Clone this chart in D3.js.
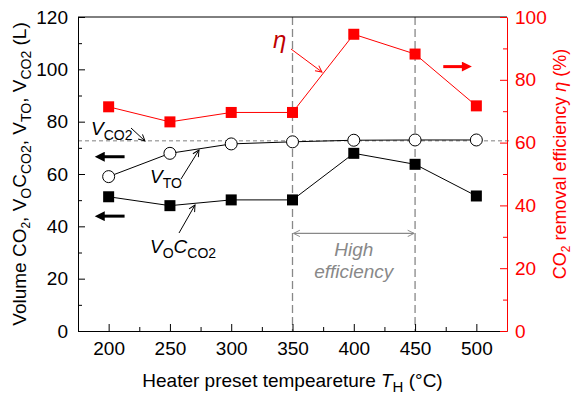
<!DOCTYPE html>
<html>
<head>
<meta charset="utf-8">
<script src="https://cdn.jsdelivr.net/npm/d3@7"></script>
<style>
body { margin: 0; background: #fff; }
text { font-family: "Liberation Sans", Arial, sans-serif; }
</style>
</head>
<body>
<div id="chart"></div>
<script>
// heater preset temperature (°C)
var temps = [200, 250, 300, 350, 400, 450, 500];
// CO2 removal efficiency eta (%), right axis
var eta = [71.4, 66.6, 69.6, 69.6, 94.5, 88.2, 71.7];
// V_TO (L)
var vTO = [59.0, 67.9, 71.5, 72.3, 72.9, 73.0, 73.0];
// V_O * C_CO2 (L)
var vOC = [51.3, 47.9, 50.1, 50.1, 67.9, 63.7, 51.6];
// V_CO2 reference level (L)
var vCO2 = 72.7;
var xTicks = [200, 250, 300, 350, 400, 450, 500];
var yTicks = [0, 20, 40, 60, 80, 100, 120];
var y2Ticks = [0, 20, 40, 60, 80, 100];

var width = 575, height = 400;
var margin = {top: 17, right: 68, bottom: 69, left: 78};
var red = "#ff0000", grey = "#888";

var svg = d3.select("#chart").append("svg")
	.attr("width", width)
	.attr("height", height);

var defs = svg.append("defs");
function openHead(id, color) {
	defs.append("marker").attr("id", id)
		.attr("viewBox", "0 0 10 10").attr("refX", 9).attr("refY", 5)
		.attr("markerWidth", 8).attr("markerHeight", 8)
		.attr("markerUnits", "userSpaceOnUse")
		.attr("orient", "auto-start-reverse")
		.append("path").attr("d", "M1,1 L9,5 L1,9")
		.attr("fill", "none").attr("stroke", color).attr("stroke-width", 1.2);
}
function solidHead(id, color) {
	defs.append("marker").attr("id", id)
		.attr("viewBox", "0 0 10 10").attr("refX", 1).attr("refY", 5)
		.attr("markerWidth", 11).attr("markerHeight", 10)
		.attr("markerUnits", "userSpaceOnUse")
		.attr("orient", "auto")
		.append("path").attr("d", "M0,0 L10,5 L0,10 Z")
		.attr("fill", color);
}
openHead("openK", "#000");
openHead("openR", red);
openHead("openG", grey);
solidHead("solidK", "#000");
solidHead("solidR", red);

var x = d3.scaleLinear().domain([175, 525]).range([margin.left, width - margin.right]);
var y = d3.scaleLinear().domain([0, 120]).range([height - margin.bottom, margin.top]);
var y2 = d3.scaleLinear().domain([0, 100]).range([height - margin.bottom, margin.top]);

var x0 = x.range()[0], x1 = x.range()[1], yb = y.range()[0], yt = y.range()[1];

// vertical dashed lines for the high efficiency range
svg.selectAll(".vline")
	.data([350, 450])
	.enter().append("line")
	.attr("x1", function (d) { return x(d); })
	.attr("x2", function (d) { return x(d); })
	.attr("y1", yt).attr("y2", yb)
	.attr("stroke", grey).attr("stroke-width", 1.3)
	.attr("stroke-dasharray", "8,4");

// V_CO2 level
svg.append("line")
	.attr("x1", x0).attr("x2", x1 + 4)
	.attr("y1", y(vCO2)).attr("y2", y(vCO2))
	.attr("stroke", "#aaa").attr("stroke-width", 1.3)
	.attr("stroke-dasharray", "4,3");

// axes
svg.append("g")
	.attr("transform", "translate(0," + yb + ")")
	.call(d3.axisBottom(x).tickValues(xTicks).tickSize(-7).tickPadding(11).tickSizeOuter(0))
	.call(function (g) { g.selectAll("text").attr("font-size", 19).attr("font-family", "Liberation Sans, Arial"); });
svg.append("g")
	.attr("transform", "translate(0," + yb + ")")
	.call(d3.axisBottom(x).tickValues([225, 275, 325, 375, 425, 475]).tickSize(-4).tickFormat("").tickSizeOuter(0))
	.call(function (g) { g.select(".domain").remove(); });

svg.append("g")
	.attr("transform", "translate(" + x0 + ",0)")
	.call(d3.axisLeft(y).tickValues(yTicks).tickSize(-7).tickPadding(10).tickSizeOuter(0))
	.call(function (g) { g.selectAll("text").attr("font-size", 19).attr("font-family", "Liberation Sans, Arial"); });
svg.append("g")
	.attr("transform", "translate(" + x0 + ",0)")
	.call(d3.axisLeft(y).tickValues([10, 30, 50, 70, 90, 110]).tickSize(-4).tickFormat("").tickSizeOuter(0))
	.call(function (g) { g.select(".domain").remove(); });

// top border
svg.append("line")
	.attr("x1", x0).attr("x2", x1).attr("y1", yt).attr("y2", yt)
	.attr("stroke", "#000");

var right = svg.append("g")
	.attr("transform", "translate(" + x1 + ",0)")
	.call(d3.axisRight(y2).tickValues(y2Ticks).tickSize(-7).tickPadding(8).tickSizeOuter(0))
	.call(function (g) {
		g.selectAll("text").attr("font-size", 19).attr("fill", red).attr("font-family", "Liberation Sans, Arial");
		g.selectAll("line").attr("stroke", red);
		g.select(".domain").attr("stroke", red);
	});
svg.append("g")
	.attr("transform", "translate(" + x1 + ",0)")
	.call(d3.axisRight(y2).tickValues([10, 30, 50, 70, 90]).tickSize(-4).tickFormat("").tickSizeOuter(0))
	.call(function (g) { g.select(".domain").remove(); g.selectAll("line").attr("stroke", red); });

// series lines
var lineL = d3.line().x(function (d, i) { return x(temps[i]); }).y(function (d) { return y(d); });
var lineR = d3.line().x(function (d, i) { return x(temps[i]); }).y(function (d) { return y2(d); });

svg.append("path").datum(eta).attr("d", lineR)
	.attr("fill", "none").attr("stroke", red).attr("stroke-width", 1);
svg.append("path").datum(vTO).attr("d", lineL)
	.attr("fill", "none").attr("stroke", "#000").attr("stroke-width", 1);
svg.append("path").datum(vOC).attr("d", lineL)
	.attr("fill", "none").attr("stroke", "#000").attr("stroke-width", 1);

var s = 11;
svg.selectAll(".etaPt").data(eta).enter().append("rect")
	.attr("x", function (d, i) { return x(temps[i]) - s / 2; })
	.attr("y", function (d) { return y2(d) - s / 2; })
	.attr("width", s).attr("height", s)
	.attr("fill", red);
svg.selectAll(".ocPt").data(vOC).enter().append("rect")
	.attr("x", function (d, i) { return x(temps[i]) - s / 2; })
	.attr("y", function (d) { return y(d) - s / 2; })
	.attr("width", s).attr("height", s)
	.attr("fill", "#000");
svg.selectAll(".toPt").data(vTO).enter().append("circle")
	.attr("cx", function (d, i) { return x(temps[i]); })
	.attr("cy", function (d) { return y(d); })
	.attr("r", 6)
	.attr("fill", "#fff").attr("stroke", "#000").attr("stroke-width", 1);

// high efficiency range
svg.append("line")
	.attr("x1", x(350) + 1).attr("x2", x(450) - 1)
	.attr("y1", y(37.3)).attr("y2", y(37.3))
	.attr("stroke", grey).attr("stroke-width", 1.2)
	.attr("marker-start", "url(#openG)").attr("marker-end", "url(#openG)");
var he = svg.append("text")
	.attr("x", x(400)).attr("y", y(28.5))
	.attr("text-anchor", "middle")
	.attr("font-size", 19).attr("font-style", "italic").attr("fill", grey);
he.append("tspan").attr("x", x(400)).text("High");
he.append("tspan").attr("x", x(400)).attr("dy", 22).text("efficiency");

// axis direction arrows
function bigArrow(xa, xb, ya, color, marker) {
	svg.append("line")
		.attr("x1", xa).attr("x2", xb).attr("y1", ya).attr("y2", ya)
		.attr("stroke", color).attr("stroke-width", 3)
		.attr("marker-end", "url(#" + marker + ")");
}
bigArrow(x(213), x(196), y(66.6), "#000", "solidK");
bigArrow(x(213), x(196), y(43.9), "#000", "solidK");
bigArrow(x(473), x(489), y2(84.2), red, "solidR");

// annotations
function annot(ax, ay, bx, by, color, marker) {
	svg.append("line")
		.attr("x1", ax).attr("y1", ay).attr("x2", bx).attr("y2", by)
		.attr("stroke", color).attr("stroke-width", 1)
		.attr("marker-end", "url(#" + marker + ")");
}
svg.append("text")
	.attr("x", 273).attr("y", 48)
	.attr("font-family", "Liberation Serif, Times New Roman, serif")
	.attr("font-style", "italic").attr("font-size", 24)
	.attr("fill", "#c00000").text("η");
annot(291, 49, 322, 72, red, "openR");

function vLabel(xp, yp, parts) {
	var t = svg.append("text").attr("x", xp).attr("y", yp).attr("font-size", 19);
	parts.forEach(function (p) {
		var ts = t.append("tspan").text(p.t);
		if (p.i) ts.attr("font-style", "italic");
		if (p.sub) ts.attr("font-size", 14).attr("dy", p.dy);
		else if (p.dy) ts.attr("dy", p.dy);
	});
	return t;
}
vLabel(91, 135, [{t: "V", i: true}, {t: "CO2", sub: true, dy: 5}]);
annot(131, 128, 145, 141, "#000", "openK");
vLabel(150, 183, [{t: "V", i: true}, {t: "TO", sub: true, dy: 5}]);
annot(181, 179, 199, 150, "#000", "openK");
vLabel(150, 253, [{t: "V", i: true}, {t: "O", sub: true, dy: 5}, {t: "C", i: true, dy: -5}, {t: "CO2", sub: true, dy: 5}]);
annot(179, 233, 195, 205, "#000", "openK");

// axis titles
var xt = svg.append("text")
	.attr("x", (x0 + x1) / 2).attr("y", 387)
	.attr("text-anchor", "middle").attr("font-size", 19);
xt.append("tspan").text("Heater preset tempeareture ");
xt.append("tspan").attr("font-style", "italic").text("T");
xt.append("tspan").attr("font-size", 15).attr("dy", 5).text("H");
xt.append("tspan").attr("dy", -5).text(" (°C)");

var lt = svg.append("text")
	.attr("transform", "translate(26," + ((yt + yb) / 2) + ") rotate(-90)")
	.attr("text-anchor", "middle").attr("font-size", 19);
lt.append("tspan").text("Volume CO");
lt.append("tspan").attr("font-size", 12).attr("dy", 4).text("2");
lt.append("tspan").attr("dy", -4).text(", V");
lt.append("tspan").attr("font-size", 14).attr("dy", 5).text("O");
lt.append("tspan").attr("dy", -5).text("C");
lt.append("tspan").attr("font-size", 14).attr("dy", 5).text("CO2");
lt.append("tspan").attr("dy", -5).text(", V");
lt.append("tspan").attr("font-size", 14).attr("dy", 5).text("TO");
lt.append("tspan").attr("dy", -5).text(", V");
lt.append("tspan").attr("font-size", 14).attr("dy", 5).text("CO2");
lt.append("tspan").attr("dy", -5).text(" (L)");

var rt = svg.append("text")
	.attr("transform", "translate(566," + ((yt + yb) / 2 - 10) + ") rotate(-90)")
	.attr("text-anchor", "middle").attr("font-size", 18).attr("fill", red);
rt.append("tspan").text("CO");
rt.append("tspan").attr("font-size", 12).attr("dy", 4).text("2");
rt.append("tspan").attr("dy", -4).text(" removal efficiency ");
rt.append("tspan").attr("font-style", "italic").text("η");
rt.append("tspan").text(" (%)");
</script>
</body>
</html>
